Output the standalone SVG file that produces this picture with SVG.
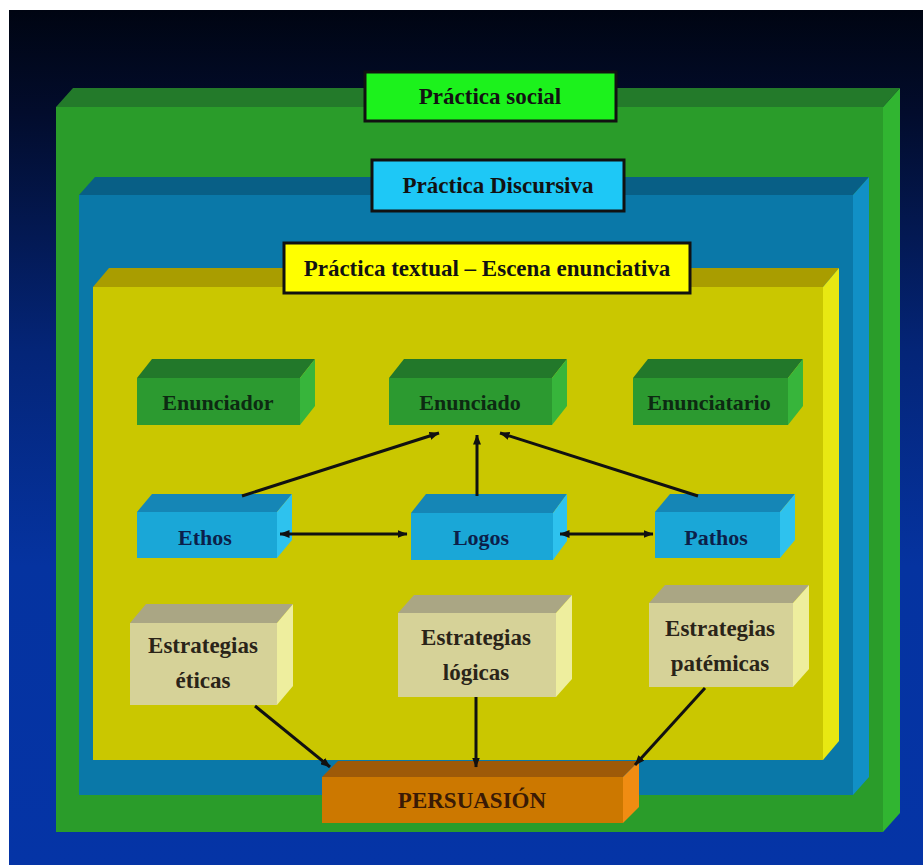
<svg xmlns="http://www.w3.org/2000/svg" width="923" height="865" viewBox="0 0 923 865">
<defs>
<linearGradient id="bg" x1="0" y1="0" x2="0" y2="1">
<stop offset="0" stop-color="#000512"/>
<stop offset="0.12" stop-color="#020c2c"/>
<stop offset="0.4" stop-color="#042578"/>
<stop offset="0.65" stop-color="#0533a0"/>
<stop offset="1" stop-color="#0534a6"/>
</linearGradient>
<marker id="ah" viewBox="0 0 10 8" refX="9.5" refY="4" markerWidth="10" markerHeight="8" markerUnits="userSpaceOnUse" orient="auto-start-reverse">
<path d="M0,0 L10,4 L0,8 z" fill="#111"/>
</marker>
</defs>
<style>
text{font-family:"Liberation Serif","Times New Roman",serif;font-weight:bold;text-anchor:middle}
.lbl{font-size:23px;fill:#121212}
.nd{font-size:22px}
.g-f{fill:#2c9a30}.g-t{fill:#22782a}.g-r{fill:#37b53b}
.b-f{fill:#1aa7d7}.b-t{fill:#1586b6}.b-r{fill:#2ec2ee}
.e-f{fill:#d6d298}.e-t{fill:#aaa684}.e-r{fill:#eeee9e}
.tg{fill:#0d2a12}.tb{fill:#0c1f4a}.te{fill:#2a2418}.to{fill:#3a1a05}
.conn line{stroke:#111;stroke-width:3;fill:none}
.box{stroke:#111;stroke-width:3}
</style>
<rect width="923" height="865" fill="#ffffff"/>
<rect x="9" y="10" width="914" height="855" fill="url(#bg)"/>

<g id="practica-social">
<rect x="56" y="107" width="827" height="725" fill="#2a9c2a"/>
<polygon points="56,107 73,88 900,88 883,107" fill="#237a2a"/>
<polygon points="883,107 900,88 900,813 883,832" fill="#31b531"/>
</g>
<g id="practica-discursiva">
<rect x="79" y="195" width="774" height="600" fill="#0a78a8"/>
<polygon points="79,195 95,177 869,177 853,195" fill="#085f86"/>
<polygon points="853,195 869,177 869,777 853,795" fill="#1190c6"/>
</g>
<g id="practica-textual">
<rect x="93" y="287" width="730" height="473" fill="#cac700"/>
<polygon points="93,287 109,268 839,268 823,287" fill="#a99d00"/>
<polygon points="823,287 839,268 839,741 823,760" fill="#e8e812"/>
</g>

<g id="label-social">
<rect class="box" x="365" y="72" width="251" height="49" fill="#1cf21c"/>
<text class="lbl" x="490" y="104">Práctica social</text>
</g>
<g id="label-discursiva">
<rect class="box" x="372" y="160" width="252" height="51" fill="#1ec8f6"/>
<text class="lbl" x="498" y="193">Práctica Discursiva</text>
</g>
<g id="label-textual">
<rect class="box" x="284" y="243" width="406" height="50" fill="#ffff00"/>
<text class="lbl" x="487" y="276">Práctica textual – Escena enunciativa</text>
</g>

<g id="enunciador">
<rect class="g-f" x="137" y="378" width="163" height="47"/>
<polygon class="g-t" points="137,378 152,359 315,359 300,378"/>
<polygon class="g-r" points="300,378 315,359 315,406 300,425"/>
<text class="nd tg" x="218" y="410">Enunciador</text>
</g>
<g id="enunciado">
<rect class="g-f" x="389" y="378" width="163" height="47"/>
<polygon class="g-t" points="389,378 404,359 567,359 552,378"/>
<polygon class="g-r" points="552,378 567,359 567,406 552,425"/>
<text class="nd tg" x="470" y="410">Enunciado</text>
</g>
<g id="enunciatario">
<rect class="g-f" x="633" y="378" width="155" height="47"/>
<polygon class="g-t" points="633,378 648,359 803,359 788,378"/>
<polygon class="g-r" points="788,378 803,359 803,406 788,425"/>
<text class="nd tg" x="709" y="410">Enunciatario</text>
</g>

<g id="ethos">
<rect class="b-f" x="137" y="512" width="140" height="46"/>
<polygon class="b-t" points="137,512 152,494 292,494 277,512"/>
<polygon class="b-r" points="277,512 292,494 292,540 277,558"/>
<text class="nd tb" x="205" y="545">Ethos</text>
</g>
<g id="logos">
<rect class="b-f" x="411" y="513" width="142" height="47"/>
<polygon class="b-t" points="411,513 426,494 567,494 553,513"/>
<polygon class="b-r" points="553,513 567,494 567,541 553,560"/>
<text class="nd tb" x="481" y="545">Logos</text>
</g>
<g id="pathos">
<rect class="b-f" x="655" y="512" width="125" height="46"/>
<polygon class="b-t" points="655,512 670,494 795,494 780,512"/>
<polygon class="b-r" points="780,512 795,494 795,540 780,558"/>
<text class="nd tb" x="716" y="545">Pathos</text>
</g>

<g id="estrategias-eticas">
<rect class="e-f" x="130" y="623" width="147" height="82"/>
<polygon class="e-t" points="130,623 146,604 293,604 277,623"/>
<polygon class="e-r" points="277,623 293,604 293,686 277,705"/>
<text class="nd te" x="203" y="653" style="font-size:23px">Estrategias</text>
<text class="nd te" x="203" y="688" style="font-size:23px">éticas</text>
</g>
<g id="estrategias-logicas">
<rect class="e-f" x="398" y="613" width="158" height="84"/>
<polygon class="e-t" points="398,613 414,595 572,595 556,613"/>
<polygon class="e-r" points="556,613 572,595 572,679 556,697"/>
<text class="nd te" x="476" y="645" style="font-size:23px">Estrategias</text>
<text class="nd te" x="476" y="680" style="font-size:23px">lógicas</text>
</g>
<g id="estrategias-patemicas">
<rect class="e-f" x="649" y="603" width="144" height="84"/>
<polygon class="e-t" points="649,603 665,585 809,585 793,603"/>
<polygon class="e-r" points="793,603 809,585 809,669 793,687"/>
<text class="nd te" x="720" y="636" style="font-size:23px">Estrategias</text>
<text class="nd te" x="720" y="671" style="font-size:23px">patémicas</text>
</g>

<g id="persuasion">
<rect x="322" y="777" width="301" height="46" fill="#cc7800"/>
<polygon points="322,777 338,761 639,761 623,777" fill="#9e5a08"/>
<polygon points="623,777 639,761 639,807 623,823" fill="#f08c12"/>
<text class="nd to" x="472" y="808" style="font-size:23px">PERSUASIÓN</text>
</g>

<g id="connectors" class="conn">
<line x1="242" y1="496" x2="439" y2="433" marker-end="url(#ah)"/>
<line x1="477" y1="496" x2="477" y2="435" marker-end="url(#ah)"/>
<line x1="698" y1="496" x2="500" y2="433" marker-end="url(#ah)"/>
<line x1="280" y1="534" x2="407" y2="534" marker-start="url(#ah)" marker-end="url(#ah)"/>
<line x1="560" y1="534" x2="653" y2="534" marker-start="url(#ah)" marker-end="url(#ah)"/>
<line x1="255" y1="706" x2="330" y2="767" marker-end="url(#ah)"/>
<line x1="476" y1="697" x2="476" y2="767" marker-end="url(#ah)"/>
<line x1="705" y1="688" x2="635" y2="765" marker-end="url(#ah)"/>
</g>
</svg>
